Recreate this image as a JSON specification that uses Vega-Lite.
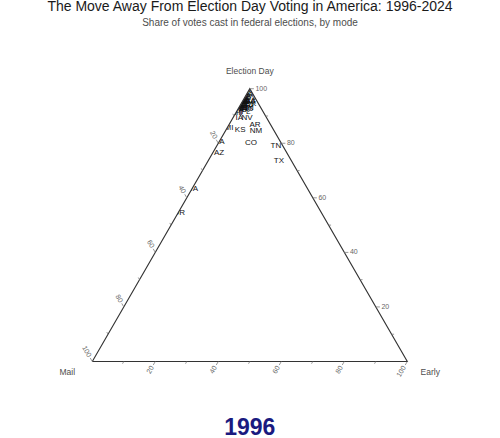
{
  "$schema": "https://vega.github.io/schema/vega-lite/v6.json",
  "width": 500,
  "height": 406,
  "padding": {"left": 0, "right": 0, "top": 33, "bottom": 0},
  "autosize": {"type": "none"},
  "background": "white",
  "config": {"view": {"stroke": null}, "font": "Liberation Sans"},
  "title": {
    "text": "The Move Away From Election Day Voting in America: 1996-2024",
    "subtitle": "Share of votes cast in federal elections, by mode",
    "anchor": "middle",
    "font": "Liberation Sans",
    "fontSize": 14,
    "fontWeight": "normal",
    "color": "#1a1a1a",
    "subtitleFont": "Liberation Sans",
    "subtitleFontSize": 10,
    "subtitleColor": "#4d4d4d",
    "subtitlePadding": 4,
    "offset": 5
  },
  "datasets": {
    "states": [
      {"state": "CA", "election": 80.5, "early": 0.0, "mail": 19.5},
      {"state": "WA", "election": 63.2, "early": 0.0, "mail": 36.8},
      {"state": "OR", "election": 54.4, "early": 0.3, "mail": 45.3},
      {"state": "AZ", "election": 76.3, "early": 2.1, "mail": 21.6},
      {"state": "MI", "election": 85.6, "early": 0.6, "mail": 13.8},
      {"state": "KS", "election": 84.9, "early": 4.5, "mail": 10.6},
      {"state": "AR", "election": 86.7, "early": 8.3, "mail": 5.0},
      {"state": "NM", "election": 84.5, "early": 9.7, "mail": 5.8},
      {"state": "CO", "election": 80.1, "early": 10.3, "mail": 9.6},
      {"state": "TN", "election": 79.0, "early": 18.8, "mail": 2.2},
      {"state": "TX", "election": 73.5, "early": 22.5, "mail": 4.0},
      {"state": "NV", "election": 89.3, "early": 4.5, "mail": 6.2},
      {"state": "IA", "election": 89.3, "early": 2.0, "mail": 8.7},
      {"state": "AK", "election": 92.2, "early": 2.1, "mail": 5.7},
      {"state": "MT", "election": 91.0, "early": 0.5, "mail": 8.5},
      {"state": "AL", "election": 98.0, "early": 0.3, "mail": 1.7},
      {"state": "CT", "election": 94.5, "early": 0.0, "mail": 5.5},
      {"state": "DE", "election": 97.0, "early": 0.0, "mail": 3.0},
      {"state": "DC", "election": 95.0, "early": 0.5, "mail": 4.5},
      {"state": "FL", "election": 91.5, "early": 3.0, "mail": 5.5},
      {"state": "GA", "election": 95.0, "early": 2.5, "mail": 2.5},
      {"state": "HI", "election": 91.0, "early": 1.0, "mail": 8.0},
      {"state": "ID", "election": 93.0, "early": 0.5, "mail": 6.5},
      {"state": "IL", "election": 96.0, "early": 0.8, "mail": 3.2},
      {"state": "IN", "election": 93.0, "early": 3.5, "mail": 3.5},
      {"state": "KY", "election": 98.5, "early": 0.3, "mail": 1.2},
      {"state": "LA", "election": 95.5, "early": 2.5, "mail": 2.0},
      {"state": "ME", "election": 93.5, "early": 0.3, "mail": 6.2},
      {"state": "MD", "election": 95.5, "early": 0.2, "mail": 4.3},
      {"state": "MA", "election": 95.5, "early": 0.0, "mail": 4.5},
      {"state": "MN", "election": 94.0, "early": 0.4, "mail": 5.6},
      {"state": "MS", "election": 98.5, "early": 0.2, "mail": 1.3},
      {"state": "MO", "election": 95.0, "early": 0.5, "mail": 4.5},
      {"state": "NE", "election": 93.0, "early": 1.0, "mail": 6.0},
      {"state": "NH", "election": 95.0, "early": 0.0, "mail": 5.0},
      {"state": "NJ", "election": 95.0, "early": 0.2, "mail": 4.8},
      {"state": "NY", "election": 95.5, "early": 0.0, "mail": 4.5},
      {"state": "NC", "election": 92.5, "early": 3.0, "mail": 4.5},
      {"state": "ND", "election": 93.0, "early": 1.0, "mail": 6.0},
      {"state": "OH", "election": 93.0, "early": 0.3, "mail": 6.7},
      {"state": "OK", "election": 94.5, "early": 3.0, "mail": 2.5},
      {"state": "PA", "election": 97.5, "early": 0.0, "mail": 2.5},
      {"state": "RI", "election": 96.0, "early": 0.0, "mail": 4.0},
      {"state": "SC", "election": 94.0, "early": 1.0, "mail": 5.0},
      {"state": "SD", "election": 94.0, "early": 2.5, "mail": 3.5},
      {"state": "UT", "election": 93.5, "early": 1.0, "mail": 5.5},
      {"state": "VT", "election": 93.0, "early": 0.5, "mail": 6.5},
      {"state": "VA", "election": 96.0, "early": 0.5, "mail": 3.5},
      {"state": "WV", "election": 96.5, "early": 2.0, "mail": 1.5},
      {"state": "WI", "election": 94.5, "early": 0.5, "mail": 5.0},
      {"state": "WY", "election": 93.0, "early": 2.5, "mail": 4.5}
    ],
    "frame": [
      {"i": 0, "election": 0, "early": 0},
      {"i": 1, "election": 0, "early": 100},
      {"i": 2, "election": 100, "early": 0},
      {"i": 3, "election": 0, "early": 0}
    ],
    "outside": [
      {"side": "left", "election": 0},
      {"side": "left", "election": 120},
      {"side": "right", "election": 0},
      {"side": "right", "election": 120}
    ],
    "ticks": [
      {"axis": "T", "v": 10}, {"axis": "T", "v": 20}, {"axis": "T", "v": 30}, {"axis": "T", "v": 40}, {"axis": "T", "v": 50},
      {"axis": "T", "v": 60}, {"axis": "T", "v": 70}, {"axis": "T", "v": 80}, {"axis": "T", "v": 90}, {"axis": "T", "v": 100},
      {"axis": "L", "v": 10}, {"axis": "L", "v": 20}, {"axis": "L", "v": 30}, {"axis": "L", "v": 40}, {"axis": "L", "v": 50},
      {"axis": "L", "v": 60}, {"axis": "L", "v": 70}, {"axis": "L", "v": 80}, {"axis": "L", "v": 90}, {"axis": "L", "v": 100},
      {"axis": "R", "v": 10}, {"axis": "R", "v": 20}, {"axis": "R", "v": 30}, {"axis": "R", "v": 40}, {"axis": "R", "v": 50},
      {"axis": "R", "v": 60}, {"axis": "R", "v": 70}, {"axis": "R", "v": 80}, {"axis": "R", "v": 90}, {"axis": "R", "v": 100}
    ],
    "vertices": [
      {"label": "Election Day", "election": 100, "early": 0},
      {"label": "Mail", "election": 0, "early": 0},
      {"label": "Early", "election": 0, "early": 100}
    ],
    "year": [{"year": "1996", "election": 0, "early": 50}]
  },
  "layer": [
    {
      "data": {"name": "states"},
      "transform": [
        {"calculate": "datum.early + datum.election / 2", "as": "px"},
        {"calculate": "datum.election * 0.8660254", "as": "py"}
      ],
      "mark": {"type": "text", "align": "center", "baseline": "middle", "fontSize": 8, "color": "#111111"},
      "encoding": {
        "x": {"field": "px", "type": "quantitative", "scale": {"domain": [-29.3, 129.43], "nice": false, "zero": false}, "axis": null},
        "y": {"field": "py", "type": "quantitative", "scale": {"domain": [-24.6, 104.29], "nice": false, "zero": false}, "axis": null},
        "text": {"field": "state", "type": "nominal"}
      }
    },
    {
      "data": {"name": "outside"},
      "transform": [
        {"calculate": "datum.side == 'left' ? datum.election / 2 : 100 - datum.election / 2", "as": "px"},
        {"calculate": "datum.side == 'left' ? -40 : 140", "as": "px2"},
        {"calculate": "datum.election * 0.8660254", "as": "py"}
      ],
      "mark": {"type": "area", "orient": "horizontal", "color": "white", "opacity": 1},
      "encoding": {
        "detail": {"field": "side", "type": "nominal"},
        "y": {"field": "py", "type": "quantitative"},
        "x": {"field": "px", "type": "quantitative"},
        "x2": {"field": "px2"}
      }
    },
    {
      "data": {"name": "frame"},
      "transform": [
        {"calculate": "datum.early + datum.election / 2", "as": "px"},
        {"calculate": "datum.election * 0.8660254", "as": "py"}
      ],
      "mark": {"type": "line", "color": "#333333", "strokeWidth": 1.1},
      "encoding": {
        "x": {"field": "px", "type": "quantitative"},
        "y": {"field": "py", "type": "quantitative"},
        "order": {"field": "i", "type": "quantitative"}
      }
    },
    {
      "data": {"name": "ticks"},
      "transform": [
        {"calculate": "datum.axis == 'T' ? 100 - datum.v / 2 : (datum.axis == 'L' ? (100 - datum.v) / 2 : datum.v)", "as": "px"},
        {"calculate": "datum.axis == 'T' ? datum.v * 0.8660254 : (datum.axis == 'L' ? (100 - datum.v) * 0.8660254 : 0)", "as": "py"},
        {"calculate": "datum.axis == 'T' ? 1 : -0.5", "as": "dxu"},
        {"calculate": "datum.axis == 'T' ? 0 : (datum.axis == 'L' ? 0.8660254 : -0.8660254)", "as": "dyu"},
        {"calculate": "datum.v % 20 == 0 ? 1.3 : 0.8", "as": "len"},
        {"calculate": "datum.px + datum.dxu * datum.len", "as": "px2"},
        {"calculate": "datum.py + datum.dyu * datum.len", "as": "py2"}
      ],
      "mark": {"type": "rule", "color": "#7f7f7f", "strokeWidth": 0.8},
      "encoding": {
        "x": {"field": "px", "type": "quantitative"},
        "y": {"field": "py", "type": "quantitative"},
        "x2": {"field": "px2"},
        "y2": {"field": "py2"}
      }
    },
    {
      "data": {"name": "ticks"},
      "transform": [
        {"filter": "datum.axis == 'T' && datum.v % 20 == 0"},
        {"calculate": "100 - datum.v / 2 + 1.8", "as": "px"},
        {"calculate": "datum.v * 0.8660254", "as": "py"}
      ],
      "mark": {"type": "text", "align": "left", "baseline": "middle", "fontSize": 7, "color": "#666666"},
      "encoding": {
        "x": {"field": "px", "type": "quantitative"},
        "y": {"field": "py", "type": "quantitative"},
        "text": {"field": "v", "type": "quantitative"}
      }
    },
    {
      "data": {"name": "ticks"},
      "transform": [
        {"filter": "datum.axis == 'L' && datum.v % 20 == 0"},
        {"calculate": "(100 - datum.v) / 2 - 0.5 * 1.8", "as": "px"},
        {"calculate": "(100 - datum.v) * 0.8660254 + 0.8660254 * 1.8", "as": "py"}
      ],
      "mark": {"type": "text", "align": "right", "baseline": "middle", "angle": 60, "fontSize": 7, "color": "#666666"},
      "encoding": {
        "x": {"field": "px", "type": "quantitative"},
        "y": {"field": "py", "type": "quantitative"},
        "text": {"field": "v", "type": "quantitative"}
      }
    },
    {
      "data": {"name": "ticks"},
      "transform": [
        {"filter": "datum.axis == 'R' && datum.v % 20 == 0"},
        {"calculate": "datum.v - 0.5 * 1.8", "as": "px"},
        {"calculate": "-0.8660254 * 1.8", "as": "py"}
      ],
      "mark": {"type": "text", "align": "right", "baseline": "middle", "angle": -60, "fontSize": 7, "color": "#666666"},
      "encoding": {
        "x": {"field": "px", "type": "quantitative"},
        "y": {"field": "py", "type": "quantitative"},
        "text": {"field": "v", "type": "quantitative"}
      }
    },
    {
      "data": {"name": "vertices"},
      "transform": [
        {"filter": "datum.label == 'Election Day'"},
        {"calculate": "datum.early + datum.election / 2", "as": "px"},
        {"calculate": "datum.election * 0.8660254", "as": "py"}
      ],
      "mark": {"type": "text", "align": "center", "baseline": "middle", "fontSize": 8.5, "color": "#4d4d4d", "dy": -18},
      "encoding": {
        "x": {"field": "px", "type": "quantitative"},
        "y": {"field": "py", "type": "quantitative"},
        "text": {"field": "label", "type": "nominal"}
      }
    },
    {
      "data": {"name": "vertices"},
      "transform": [
        {"filter": "datum.label == 'Mail'"},
        {"calculate": "datum.early + datum.election / 2", "as": "px"},
        {"calculate": "datum.election * 0.8660254", "as": "py"}
      ],
      "mark": {"type": "text", "align": "center", "baseline": "middle", "fontSize": 8.5, "color": "#4d4d4d", "dx": -25, "dy": 10},
      "encoding": {
        "x": {"field": "px", "type": "quantitative"},
        "y": {"field": "py", "type": "quantitative"},
        "text": {"field": "label", "type": "nominal"}
      }
    },
    {
      "data": {"name": "vertices"},
      "transform": [
        {"filter": "datum.label == 'Early'"},
        {"calculate": "datum.early + datum.election / 2", "as": "px"},
        {"calculate": "datum.election * 0.8660254", "as": "py"}
      ],
      "mark": {"type": "text", "align": "center", "baseline": "middle", "fontSize": 8.5, "color": "#4d4d4d", "dx": 23, "dy": 10},
      "encoding": {
        "x": {"field": "px", "type": "quantitative"},
        "y": {"field": "py", "type": "quantitative"},
        "text": {"field": "label", "type": "nominal"}
      }
    },
    {
      "data": {"name": "year"},
      "transform": [
        {"calculate": "datum.early + datum.election / 2", "as": "px"},
        {"calculate": "datum.election * 0.8660254", "as": "py"}
      ],
      "mark": {"type": "text", "align": "center", "baseline": "middle", "fontSize": 23, "fontWeight": "bold", "color": "#1a1a80", "dy": 66},
      "encoding": {
        "x": {"field": "px", "type": "quantitative"},
        "y": {"field": "py", "type": "quantitative"},
        "text": {"field": "year", "type": "nominal"}
      }
    }
  ]
}
